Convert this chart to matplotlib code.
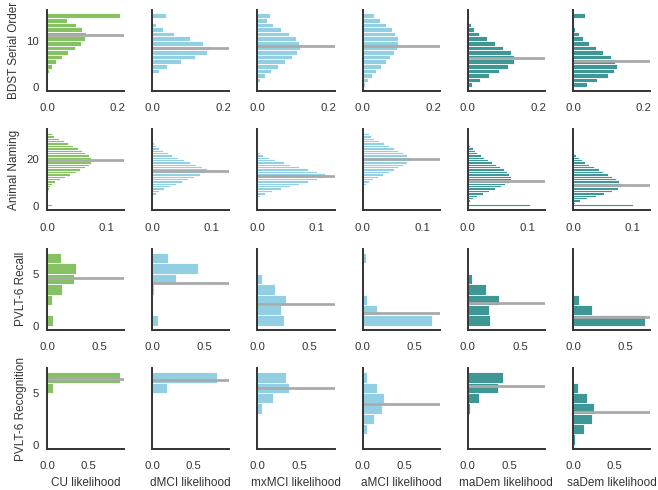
import matplotlib
matplotlib.use("Agg")
import matplotlib.pyplot as plt
import seaborn as sns

sns.set_style("white")
plt.rcParams['font.family'] = ['Liberation Sans', 'DejaVu Sans']

groups = ['CU', 'dMCI', 'mxMCI', 'aMCI', 'maDem', 'saDem']
tests = ['BDST Serial Order', 'Animal Naming', 'PVLT-6 Recall', 'PVLT-6 Recognition']

# probability per score bin, listed from bin 0 upwards
bdst = [
    [0, 0, 0, 0.0066, 0.015, 0.026, 0.042, 0.059, 0.079, 0.095, 0.107, 0.109, 0.100, 0.083, 0.057, 0.205],
    [0, 0, 0, 0.019, 0.042, 0.082, 0.122, 0.155, 0.163, 0.145, 0.107, 0.063, 0.030, 0.011, 0, 0.039],
    [0, 0.008, 0.022, 0.038, 0.058, 0.077, 0.097, 0.113, 0.120, 0.118, 0.108, 0.089, 0.068, 0.045, 0.026, 0.035],
    [0.0075, 0.014, 0.026, 0.038, 0.052, 0.065, 0.077, 0.088, 0.096, 0.100, 0.099, 0.091, 0.082, 0.065, 0.049, 0.032],
    [0.013, 0.035, 0.061, 0.089, 0.114, 0.130, 0.132, 0.121, 0.100, 0.078, 0.054, 0.033, 0.018, 0.008, 0, 0.003],
    [0.040, 0.069, 0.099, 0.116, 0.124, 0.119, 0.107, 0.085, 0.066, 0.045, 0.028, 0.017, 0.007, 0.003, 0, 0.035],
]
animal = [
    [0.008, 0, 0, 0, 0, 0, 0.001, 0.003, 0.005, 0.009, 0.014, 0.022, 0.030, 0.038, 0.048, 0.056,
     0.064, 0.070, 0.074, 0.076, 0.074, 0.070, 0.064, 0.058, 0.052, 0.044, 0.036, 0.028, 0.020, 0.012, 0.008],
    [0, 0, 0, 0, 0, 0.006, 0.012, 0.020, 0.030, 0.040, 0.050, 0.060, 0.070, 0.080, 0.088, 0.092,
     0.084, 0.074, 0.064, 0.054, 0.044, 0.034, 0.026, 0.018, 0.012, 0.006, 0.003],
    [0, 0, 0, 0, 0.005, 0.012, 0.025, 0.040, 0.055, 0.070, 0.085, 0.100, 0.110, 0.113, 0.100, 0.085,
     0.070, 0.055, 0.045, 0.030, 0.020, 0.010, 0.005],
    [0, 0, 0, 0, 0, 0, 0, 0, 0.002, 0.005, 0.010, 0.018, 0.026, 0.034, 0.044, 0.052,
     0.060, 0.068, 0.074, 0.078, 0.080, 0.075, 0.068, 0.060, 0.052, 0.044, 0.036, 0.028, 0.020, 0.014, 0.010],
    [0.104, 0, 0.003, 0.008, 0.015, 0.025, 0.035, 0.045, 0.055, 0.062, 0.070, 0.073, 0.072, 0.070, 0.066, 0.060,
     0.054, 0.047, 0.040, 0.034, 0.028, 0.022, 0.016, 0.012, 0.008, 0.004, 0.002],
    [0.100, 0.004, 0.012, 0.024, 0.038, 0.052, 0.065, 0.075, 0.080, 0.082, 0.078, 0.073, 0.066, 0.058, 0.050, 0.043,
     0.035, 0.027, 0.020, 0.015, 0.010, 0.005, 0.002],
]
recall = [
    [0.057, 0, 0.048, 0.143, 0.264, 0.274, 0.137],
    [0.060, 0, 0, 0.016, 0.230, 0.440, 0.150],
    [0.260, 0.229, 0.270, 0.165, 0.048],
    [0.665, 0.140, 0.041, 0.016, 0, 0, 0.029],
    [0.216, 0.207, 0.300, 0.175, 0.038],
    [0.690, 0.178, 0.057],
]
recog = [
    [0, 0, 0, 0, 0, 0.072, 0.870],
    [0, 0, 0, 0, 0, 0.176, 0.776],
    [0, 0, 0, 0.060, 0.190, 0.380, 0.348],
    [0, 0.052, 0.140, 0.236, 0.256, 0.172, 0.052],
    [0, 0, 0, 0.024, 0.136, 0.360, 0.424],
    [0.028, 0.132, 0.232, 0.256, 0.164, 0.056],
]
means = [
    [11.2, 8.5, 8.8, 9.0, 6.4, 5.7],
    [19.6, 15.1, 13.0, 20.0, 10.6, 9.0],
    [4.6, 4.14, 2.07, 1.27, 2.2, 0.86],
    [6.32, 6.29, 5.48, 3.97, 5.71, 3.13],
]
data = [bdst, animal, recall, recog]

colors = ['#86c263', '#93cfe2', '#93cfe2', '#93cfe2', '#3e9695', '#3e9695']
xmax = [0.218, 0.1295, 0.74, 0.925]
xticks = [[0, 0.2], [0, 0.1], [0, 0.5], [0, 0.5]]
ylims = [(-0.8, 16.8), (-1.55, 32.55), (-0.35, 7.4), (-0.4, 7.4)]
yticks = [[0, 10], [0, 20], [0, 5], [0, 5]]

fig, axes = plt.subplots(4, 6, figsize=(6.58, 4.9), dpi=100)
fig.subplots_adjust(left=0.0714, right=0.988, top=0.98, bottom=0.0837, wspace=0.364, hspace=0.48)

for r in range(4):
    for c in range(6):
        ax = axes[r, c]
        w = data[r][c]
        ax.barh(range(len(w)), w, height=1, align='edge', color=colors[c],
                edgecolor='white', linewidth=0.6)
        ax.axhline(means[r][c], color='#aaaaaa', linewidth=2)
        ax.set_xlim(0, xmax[r])
        ax.set_ylim(*ylims[r])
        ax.set_xticks(xticks[r])
        ax.set_yticks(yticks[r])
        ax.tick_params(axis='both', length=0, labelsize=8.2, colors='#333333')
        ax.tick_params(axis='x', pad=9)
        ax.tick_params(axis='y', pad=6)
        if c > 0:
            ax.set_yticklabels([])
        else:
            ax.set_ylabel(tests[r], fontsize=8.5, color='#333333')
        if r == 3:
            ax.set_xlabel(groups[c] + ' likelihood', fontsize=8.5, color='#333333')
        for s in ['top', 'right']:
            ax.spines[s].set_visible(False)
        for s in ['left', 'bottom']:
            ax.spines[s].set_color('#333333')
            ax.spines[s].set_linewidth(1.4)

plt.savefig('out.png', dpi=100)
